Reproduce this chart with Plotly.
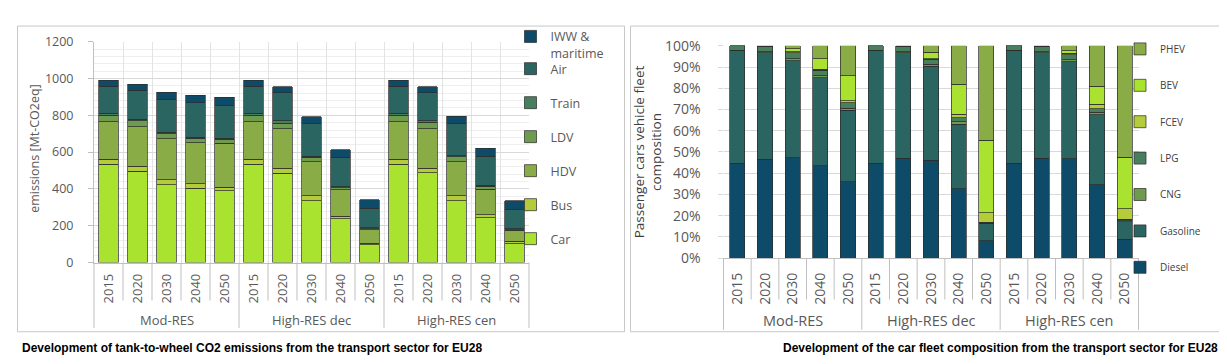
import plotly.graph_objects as go

W, H = 1227, 364

groups = ["Mod-RES", "High-RES dec", "High-RES cen"]
years = ["2015", "2020", "2030", "2040", "2050"]

# ---- Left chart: tank-to-wheel CO2 emissions [Mt-CO2eq] ----
car = [535, 495, 423, 404, 389, 535, 486, 335, 237, 96, 535, 488, 337, 244, 103]
bus = [27, 28, 26, 24, 20, 27, 26, 28, 14, 9, 27, 24, 26, 16, 12]
hdv = [203, 214, 223, 222, 239, 203, 215, 184, 144, 74, 203, 215, 185, 139, 60]
ldv = [36, 33, 28, 26, 22, 36, 31, 24, 11, 5, 36, 35, 26, 15, 4]
train = [9, 9, 7, 5, 6, 9, 12, 7, 7, 5, 9, 8, 7, 5, 5]
air = [149, 158, 180, 187, 175, 149, 153, 175, 159, 106, 149, 153, 177, 159, 103]
iww = [31, 31, 38, 41, 46, 31, 33, 38, 42, 45, 31, 33, 36, 43, 48]

# ---- Right chart: passenger car fleet composition [%] ----
diesel = [44.6, 46.6, 47.3, 43.5, 35.9, 44.6, 47.0, 46.0, 32.6, 8.2, 44.6, 47.1, 46.9, 34.5, 8.9]
gasoline = [53.0, 50.1, 45.6, 41.5, 33.7, 53.0, 49.7, 44.3, 30.5, 7.9, 53.0, 49.6, 45.6, 33.1, 8.2]
cng = [0.3, 0.6, 1.0, 0.9, 0.9, 0.3, 0.6, 0.9, 1.2, 0.3, 0.3, 0.6, 0.9, 1.0, 0.6]
lpg = [2.1, 2.2, 2.8, 2.5, 2.7, 2.1, 2.2, 2.4, 1.9, 0.5, 2.1, 2.2, 2.4, 1.8, 0.7]
fcev = [0.0, 0.1, 0.4, 0.6, 0.9, 0.0, 0.1, 0.4, 1.6, 4.5, 0.0, 0.1, 0.6, 2.1, 4.8]
bev = [0.0, 0.2, 1.4, 4.8, 11.7, 0.0, 0.2, 3.0, 14.0, 34.0, 0.0, 0.2, 1.2, 8.5, 24.4]
phev = [0.0, 0.2, 1.5, 6.2, 14.2, 0.0, 0.2, 3.0, 18.2, 44.6, 0.0, 0.2, 2.4, 19.0, 52.4]

left_ticks = [0, 200, 400, 600, 800, 1000, 1200]
right_ticks = [0, 10, 20, 30, 40, 50, 60, 70, 80, 90, 100]
right_tick_labels = [f"{v}%" for v in right_ticks]

cats = [f"{g} {y}" for g in groups for y in years]
year_labels = [y for g in groups for y in years]

# colours
C_LIME = "#A9E330"
C_YG = "#B4CC3A"
C_OLIVE = "#8AAC46"
C_MID = "#6E9B4E"
C_DKG = "#48805F"
C_TEAL = "#2B6561"
C_BLUE = "#0D4B69"
OUTLINE = dict(color="rgba(45,45,45,0.9)", width=0.8)
TXT = "#595959"
FONT = "Open Sans"

fig = go.Figure()

left_series = [
    ("Car", car, C_LIME, "legend2"),
    ("Bus", bus, C_YG, "legend2"),
    ("HDV", hdv, C_OLIVE, "legend2"),
    ("LDV", ldv, C_MID, "legend2"),
    ("Train", train, C_DKG, "legend2"),
    ("Air", air, C_TEAL, "legend2"),
    ("IWW &<br>maritime", iww, C_BLUE, "legend"),
]
for k, (name, vals, col, lg) in enumerate(left_series):
    fig.add_trace(go.Bar(x=cats, y=vals, name=name, marker=dict(color=col, line=OUTLINE),
                         width=0.66, xaxis="x", yaxis="y", legend=lg, legendgroup=name,
                         legendrank=100 - k))

right_series = [
    ("Diesel", diesel, C_BLUE),
    ("Gasoline", gasoline, C_TEAL),
    ("CNG", cng, C_MID),
    ("LPG", lpg, C_DKG),
    ("FCEV", fcev, C_YG),
    ("BEV", bev, C_LIME),
    ("PHEV", phev, C_OLIVE),
]
for k, (name, vals, col) in enumerate(right_series):
    fig.add_trace(go.Bar(x=cats, y=vals, name=name, marker=dict(color=col, line=OUTLINE),
                         width=0.55, xaxis="x2", yaxis="y2", legend="legend3",
                         legendgroup="r" + name, legendrank=100 - k))

def px_y(p):
    return 1 - p / H

L0, L1 = 86 / W, 521 / W
R0, R1 = 715.5 / W, 1130.5 / W
LY0, LY1 = px_y(258), px_y(25)
RY0, RY1 = px_y(253.3), px_y(29.3)

fig.update_layout(
    width=W, height=H, margin=dict(l=0, r=0, t=0, b=0),
    paper_bgcolor="white", plot_bgcolor="white",
    barmode="stack",
    font=dict(family=FONT, color=TXT),
    xaxis=dict(domain=[L0, L1], anchor="y", type="category", categoryarray=cats,
               tickvals=cats, ticktext=year_labels, tickangle=-90,
               tickfont=dict(size=13, color=TXT), ticks="", ticklabelstandoff=5,
               showgrid=True, gridcolor="#E3E3E3", tickson="boundaries",
               showline=True, linecolor="#BFBFBF", linewidth=1),
    yaxis=dict(domain=[LY0, LY1], anchor="x", range=[0, 1200], tickvals=left_ticks,
               tickfont=dict(size=12.5, color=TXT), showgrid=True, gridcolor="#D9D9D9",
               minor=dict(dtick=40, showgrid=True, gridcolor="#EEEEEE"),
               showline=True, linecolor="#BFBFBF", ticks="outside", ticklen=5,
               tickcolor="#BFBFBF", zeroline=False, ticklabelstandoff=12),
    xaxis2=dict(domain=[R0, R1], anchor="y2", type="category", categoryarray=cats,
                tickvals=cats, ticktext=year_labels, tickangle=-90,
                tickfont=dict(size=14, color=TXT), ticks="", ticklabelstandoff=8,
                showgrid=False, showline=True, linecolor="#BFBFBF", linewidth=1),
    yaxis2=dict(domain=[RY0, RY1], anchor="x2", range=[0, 100], tickvals=right_ticks,
                ticktext=right_tick_labels, tickfont=dict(size=14, color=TXT), showgrid=True,
                gridcolor="#D9D9D9", showline=False, ticks="outside", ticklen=5,
                tickcolor="#D9D9D9", zeroline=False, ticklabelstandoff=14),
    legend=dict(x=502.5 / W, y=px_y(4), xanchor="left", yanchor="top", valign="top",
                traceorder="grouped", font=dict(size=12.5, color=TXT),
                bgcolor="rgba(0,0,0,0)"),
    legend2=dict(x=502.5 / W, y=px_y(38), xanchor="left", yanchor="top",
                 traceorder="grouped", tracegroupgap=14.75,
                 font=dict(size=12.5, color=TXT), bgcolor="rgba(0,0,0,0)"),
    legend3=dict(x=1112 / W, y=px_y(17.3), xanchor="left", yanchor="top",
                 traceorder="grouped", tracegroupgap=17.4,
                 font=dict(size=10, color="#404040"), bgcolor="rgba(0,0,0,0)"),
    showlegend=True,
)

shapes = []
annotations = []
n = len(cats)
per = len(years)
for (d0, d1, axis_y, yr_end, grp_end) in [(L0, L1, 258, 298, 327), (R0, R1, 253.3, 297, 329)]:
    for i in range(n + 1):
        xp = d0 + (i / n) * (d1 - d0)
        end = grp_end if i % per == 0 else yr_end
        shapes.append(dict(type="line", xref="paper", yref="paper", x0=xp, x1=xp,
                           y0=px_y(axis_y), y1=px_y(end), line=dict(color="#BFBFBF", width=1)))
for (d0, d1, yc, fs) in [(L0, L1, 318.5, 13), (R0, R1, 319.5, 14.5)]:
    for gi, g in enumerate(groups):
        xp = d0 + ((gi * per + per / 2) / n) * (d1 - d0)
        annotations.append(dict(text=g, x=xp, y=px_y(yc), xref="paper", yref="paper",
                                showarrow=False, xanchor="center", yanchor="middle",
                                font=dict(size=fs, color=TXT)))

# panel frames
shapes.append(dict(type="rect", xref="paper", yref="paper", x0=9.5 / W, x1=616.5 / W,
                   y0=px_y(331), y1=px_y(8.5), line=dict(color="#C8C8C8", width=1)))
shapes.append(dict(type="rect", xref="paper", yref="paper", x0=622.5 / W, x1=1214 / W,
                   y0=px_y(331), y1=px_y(8.5), line=dict(color="#C8C8C8", width=1)))

# axis titles
annotations.append(dict(text="emissions [Mt-CO2eq]", x=27 / W, y=px_y(138), xref="paper",
                        yref="paper", showarrow=False, textangle=-90, xanchor="center",
                        yanchor="middle", font=dict(size=12.5, color=TXT)))
annotations.append(dict(text="Passenger cars vehicle fleet<br>composition", x=640 / W,
                        y=px_y(141.7), xref="paper", yref="paper", showarrow=False,
                        textangle=-90, xanchor="center", yanchor="middle",
                        font=dict(size=13.5, color="#404040")))

# captions
annotations.append(dict(text="<b>Development of tank-to-wheel CO2 emissions from the transport sector for EU28</b>",
                        x=12 / W, y=px_y(348), xref="paper", yref="paper", showarrow=False,
                        xanchor="left", yanchor="middle",
                        font=dict(family="Liberation Sans", size=12, color="black")))
annotations.append(dict(text="<b>Development of the car fleet composition from the transport sector for EU28</b>",
                        x=1212 / W, y=px_y(348), xref="paper", yref="paper", showarrow=False,
                        xanchor="right", yanchor="middle",
                        font=dict(family="Liberation Sans", size=12, color="black")))

fig.update_layout(shapes=shapes, annotations=annotations)
fig.write_html("out.html")
